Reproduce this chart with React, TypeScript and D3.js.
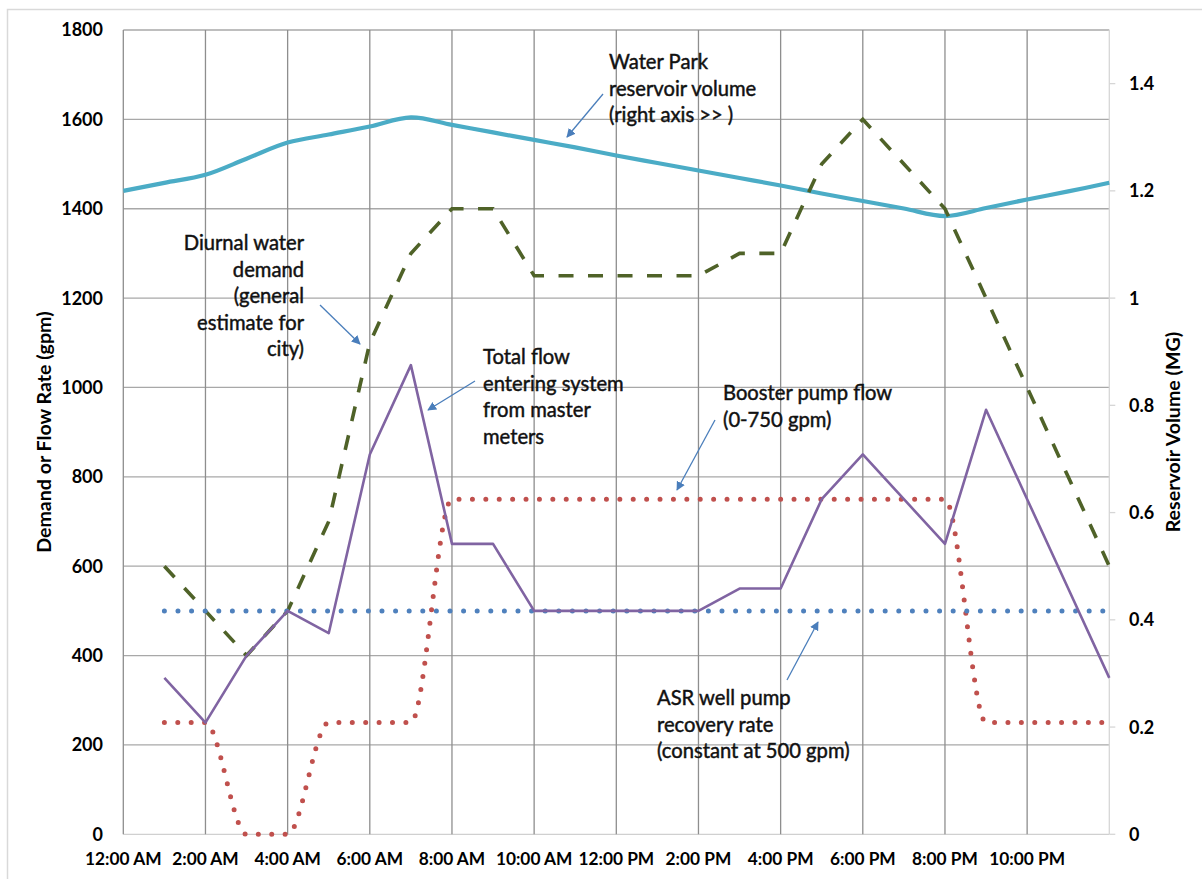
import React from "react";
import * as d3 from "d3";

// Hour-of-day tick labels along the bottom axis (every two hours)
const tickHours = [0, 2, 4, 6, 8, 10, 12, 14, 16, 18, 20, 22];
const tickLabels = [
  "12:00 AM", "2:00 AM", "4:00 AM", "6:00 AM", "8:00 AM", "10:00 AM",
  "12:00 PM", "2:00 PM", "4:00 PM", "6:00 PM", "8:00 PM", "10:00 PM",
];

// Hourly flow series, 1:00 AM through midnight
const flowHours = [1, 2, 3, 4, 5, 6, 7, 8, 9, 10, 11, 12, 13, 14, 15, 16, 17, 18, 19, 20, 21, 22, 23, 24];
const diurnalDemand = [600, 500, 400, 500, 700, 1100, 1300, 1400, 1400, 1250, 1250, 1250, 1250, 1250, 1300, 1300, 1500, 1600, 1500, 1400, 1200, 1000, 800, 600];
const totalFlow = [350, 250, 400, 500, 450, 850, 1050, 650, 650, 500, 500, 500, 500, 500, 550, 550, 750, 850, 750, 650, 950, 750, 550, 350];
const boosterFlow = [250, 250, 0, 0, 250, 250, 250, 750, 750, 750, 750, 750, 750, 750, 750, 750, 750, 750, 750, 750, 250, 250, 250, 250];
const asrRecovery = [500, 500, 500, 500, 500, 500, 500, 500, 500, 500, 500, 500, 500, 500, 500, 500, 500, 500, 500, 500, 500, 500, 500, 500];

// Reservoir volume (MG), midnight through midnight
const reservoirHours = [0, 1, 2, 3, 4, 5, 6, 7, 8, 9, 10, 11, 12, 13, 14, 15, 16, 17, 18, 19, 20, 21, 22, 23, 24];
const reservoirVolume = [1.2, 1.215, 1.23, 1.26, 1.29, 1.305, 1.32, 1.337, 1.323, 1.309, 1.295, 1.281, 1.266, 1.252, 1.238, 1.224, 1.21, 1.195, 1.181, 1.167, 1.153, 1.168, 1.184, 1.199, 1.215];

const leftTicks = [0, 200, 400, 600, 800, 1000, 1200, 1400, 1600, 1800];
const rightTicks = [0, 0.2, 0.4, 0.6, 0.8, 1, 1.2, 1.4];

const FONT = "Lato, 'Open Sans', sans-serif";
const ARROW = "#4A7EBB";

type Note = { lines: string[]; x: number; y: number; anchor: "start" | "end"; arrow: [number, number, number, number] };

export default function App() {
  const W = 1202;
  const H = 879;
  const left = 123.3;
  const right = 1109.3;
  const top = 30;
  const bottom = 834.3;

  const x = d3.scaleLinear().domain([0, 24]).range([left, right]);
  const yL = d3.scaleLinear().domain([0, 1800]).range([bottom, top]);
  const yR = d3.scaleLinear().domain([0, 1.5]).range([bottom, top]);

  const pairs = (xs: number[], ys: number[]) => xs.map((h, i) => [h, ys[i]] as [number, number]);

  const lineL = (curve: d3.CurveFactory) =>
    d3.line<[number, number]>().x((d) => x(d[0])).y((d) => yL(d[1])).curve(curve);
  const lineR = d3.line<[number, number]>().x((d) => x(d[0])).y((d) => yR(d[1])).curve(d3.curveCatmullRom);

  const gridHours = d3.range(0, 25, 2);

  const lineGap = 26.5;
  const notes: Note[] = [
    { lines: ["Water Park", "reservoir volume", "(right axis >> )"], x: 609, y: 62, anchor: "start", arrow: [603, 94, 567, 137] },
    { lines: ["Diurnal water", "demand", "(general", "estimate for", "city)"], x: 304, y: 243, anchor: "end", arrow: [320, 305, 360, 344] },
    { lines: ["Total flow", "entering system", "from master", "meters"], x: 483, y: 357, anchor: "start", arrow: [475, 381, 428, 410] },
    { lines: ["Booster pump flow", "(0-750 gpm)"], x: 723, y: 393, anchor: "start", arrow: [715, 420, 677, 490] },
    { lines: ["ASR well pump", "recovery rate", "(constant at 500 gpm)"], x: 657, y: 698, anchor: "start", arrow: [787, 680, 818, 622] },
  ];

  return (
    <svg
      width={W}
      height={H}
      style={{ position: "absolute", left: 0, top: 0, background: "#fff" }}
      fontFamily={FONT}
    >
      <defs>
        <marker id="arrowHead" viewBox="0 0 10 10" refX="9" refY="5" markerWidth="9" markerHeight="9" markerUnits="userSpaceOnUse" orient="auto">
          <path d="M0,0 L10,5 L0,10 z" fill={ARROW} />
        </marker>
      </defs>

      {/* chart frame */}
      <rect x={7.5} y={9.5} width={1210} height={890} fill="none" stroke="#d9d9d9" strokeWidth={1.5} />

      {/* horizontal gridlines */}
      {leftTicks.map((v) => (
        <line key={"h" + v} x1={left} x2={right} y1={yL(v)} y2={yL(v)} stroke={v === 0 ? "#d0d0d0" : "#a8a8a8"} strokeWidth={1.3} />
      ))}
      {/* vertical gridlines */}
      {gridHours.map((h) => (
        <line key={"v" + h} x1={x(h)} x2={x(h)} y1={top} y2={bottom} stroke={h === 24 ? "#d6d6d6" : "#8e8e8e"} strokeWidth={1.3} />
      ))}

      {/* right axis tick marks */}
      {rightTicks.map((v) => (
        <line key={"rt" + v} x1={right} x2={right + 6} y1={yR(v)} y2={yR(v)} stroke="#d6d6d6" strokeWidth={1.3} />
      ))}

      {/* left tick labels */}
      {leftTicks.map((v) => (
        <text key={"lt" + v} x={103} y={yL(v)} dy="0.36em" textAnchor="end" fontSize={18} fontWeight={700} fill="#000">
          {v}
        </text>
      ))}
      {/* right tick labels */}
      {rightTicks.map((v) => (
        <text key={"rl" + v} x={1129} y={yR(v)} dy="0.36em" textAnchor="start" fontSize={18} fontWeight={700} fill="#000">
          {d3.format("~g")(v)}
        </text>
      ))}
      {/* bottom tick labels */}
      {tickHours.map((h, i) => (
        <text key={"bt" + h} x={x(h)} y={859} dy="0.36em" textAnchor="middle" fontSize={17.3} fontWeight={700} fill="#000">
          {tickLabels[i]}
        </text>
      ))}

      {/* axis titles */}
      <text transform={`translate(44,${(top + bottom) / 2}) rotate(-90)`} dy="0.36em" textAnchor="middle" fontSize={19.6} fontWeight={700}>
        Demand or Flow Rate (gpm)
      </text>
      <text transform={`translate(1173,${(top + bottom) / 2}) rotate(-90)`} dy="0.36em" textAnchor="middle" fontSize={19.6} fontWeight={700}>
        Reservoir Volume (MG)
      </text>

      {/* series */}
      <path d={lineR(pairs(reservoirHours, reservoirVolume)) ?? ""} fill="none" stroke="#4BACC6" strokeWidth={4.2} strokeLinejoin="round" />
      <path d={lineL(d3.curveLinear)(pairs(flowHours, diurnalDemand)) ?? ""} fill="none" stroke="#4F6228" strokeWidth={3.6} strokeDasharray="15 14.5" />
      <path d={lineL(d3.curveMonotoneX)(pairs(flowHours, boosterFlow)) ?? ""} fill="none" stroke="#C0504D" strokeWidth={5} strokeDasharray="0 13.4" strokeLinecap="round" />
      <path d={lineL(d3.curveLinear)(pairs(flowHours, asrRecovery)) ?? ""} fill="none" stroke="#4F81BD" strokeWidth={5} strokeDasharray="0 13.6" strokeLinecap="round" />
      <path d={lineL(d3.curveLinear)(pairs(flowHours, totalFlow)) ?? ""} fill="none" stroke="#8064A2" strokeWidth={2.6} strokeLinejoin="round" />

      {/* annotations */}
      {notes.map((n, i) => (
        <g key={"n" + i}>
          <text x={n.x} y={n.y} textAnchor={n.anchor} fontSize={20.2} fill="#111" stroke="#111" strokeWidth={0.45}>
            {n.lines.map((ln, j) => (
              <tspan key={j} x={n.x} y={n.y + j * lineGap} dy="0.36em">
                {ln}
              </tspan>
            ))}
          </text>
          <line x1={n.arrow[0]} y1={n.arrow[1]} x2={n.arrow[2]} y2={n.arrow[3]} stroke={ARROW} strokeWidth={1.3} markerEnd="url(#arrowHead)" />
        </g>
      ))}
    </svg>
  );
}
